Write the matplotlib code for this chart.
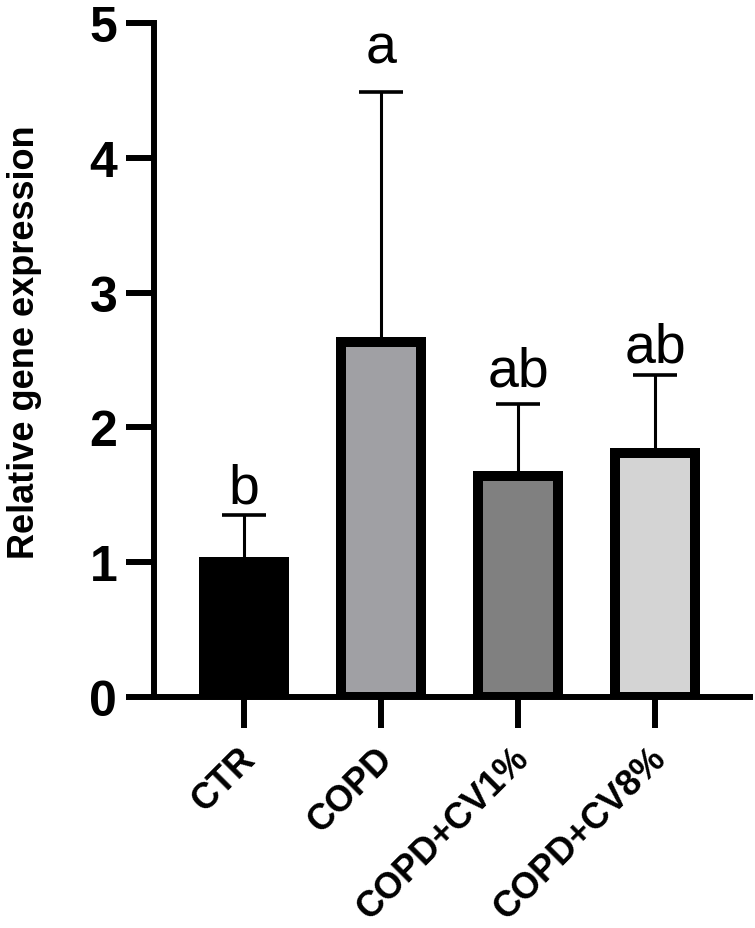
import matplotlib
matplotlib.use("Agg")
import matplotlib.pyplot as plt
import matplotlib.transforms as mtransforms

categories = ["CTR", "COPD", "COPD+CV1%", "COPD+CV8%"]
means = [1.00, 2.63, 1.64, 1.81]
sd_upper = [0.35, 1.86, 0.53, 0.58]
letters = ["b", "a", "ab", "ab"]
letter_y = [1.44, 4.71, 2.31, 2.49]
bar_colors = ["#000000", "#a0a0a4", "#808080", "#d4d4d4"]
y_ticks = [0, 1, 2, 3, 4, 5]

plt.rcParams["font.family"] = ["Liberation Sans", "DejaVu Sans"]

W, H = 755, 929
fig = plt.figure(figsize=(W / 100, H / 100), dpi=100)
ax = fig.add_axes([154 / W, 1 - 698 / H, (750 - 154) / W, (698 - 24) / H])

x = list(range(len(categories)))
ax.errorbar(x, means, yerr=[[0] * len(means), sd_upper], fmt="none",
            ecolor="black", elinewidth=2.2, capsize=16, capthick=2.6, zorder=2)
ax.bar(x, means, width=0.584, color=bar_colors, edgecolor="black",
       linewidth=7.2, zorder=3)

for xi, lab, ly in zip(x, letters, letter_y):
    ax.text(xi, ly, lab, ha="center", va="baseline", fontsize=40,
            color="black", zorder=4)

ax.set_xlim(-0.657, 3.693)
ax.set_ylim(0, 5)
ax.set_yticks(y_ticks)
ax.set_yticklabels([str(t) for t in y_ticks], fontsize=36, fontweight="bold")
ax.set_xticks(x)
ax.set_xticklabels(categories, fontsize=26, fontweight="bold", rotation=45,
                   ha="right", va="center", rotation_mode="anchor")

for s in ["top", "right"]:
    ax.spines[s].set_visible(False)
for s in ["left", "bottom"]:
    ax.spines[s].set_linewidth(4.3)
ax.tick_params(axis="y", length=20, width=4.3, pad=6.5)
ax.tick_params(axis="x", length=22, width=4.3, pad=18)

offset = mtransforms.ScaledTranslation(6 / 100, 0, fig.dpi_scale_trans)
for lbl in ax.get_xticklabels():
    lbl.set_transform(lbl.get_transform() + offset)

ax.set_ylabel("Relative gene expression", fontsize=26, fontweight="bold")
ax.yaxis.set_label_coords(-(154 - 42) / (750 - 154), (698 - 342) / (698 - 24))

fig.savefig("out.png", dpi=100)
